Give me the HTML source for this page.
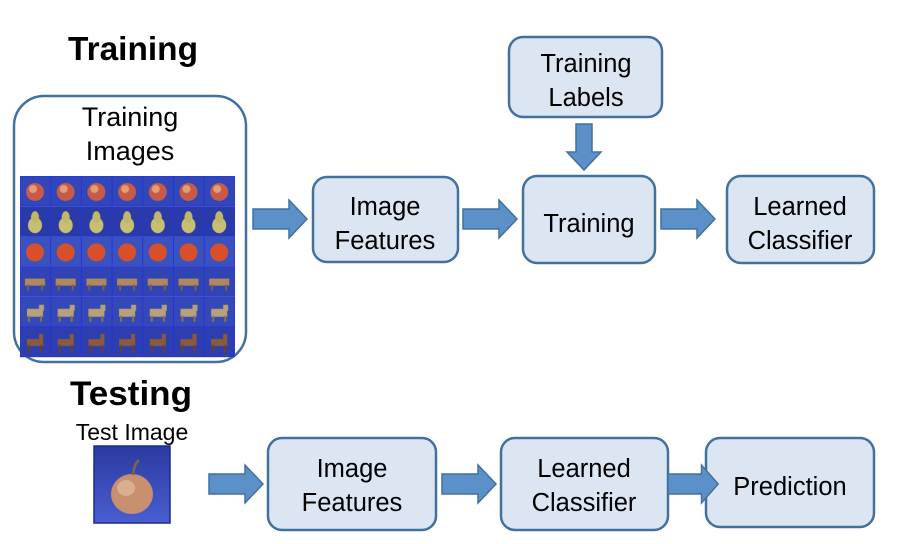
<!DOCTYPE html>
<html><head><meta charset="utf-8"><style>
html,body{margin:0;padding:0;background:#fff;}
svg{display:block}
text{font-family:"Liberation Sans",sans-serif;fill:#000}
</style></head><body>
<svg width="897" height="544" viewBox="0 0 897 544" xmlns="http://www.w3.org/2000/svg">
<defs>
<pattern id="p0" x="20" y="176" width="30.7" height="30.2" patternUnits="userSpaceOnUse"><rect width="30.7" height="30.2" fill="#3146b8" stroke="#2233dd" stroke-width="1"/><circle cx="15" cy="16" r="9" fill="#c85a4a"/><circle cx="13" cy="13" r="4" fill="#e0a070"/></pattern>
<pattern id="p1" x="20" y="206.2" width="30.7" height="30.2" patternUnits="userSpaceOnUse"><rect width="30.7" height="30.2" fill="#2a3aa8" stroke="#2233dd" stroke-width="1"/><ellipse cx="15" cy="19" rx="7" ry="8" fill="#c8c070"/><ellipse cx="15" cy="11" rx="4" ry="6" fill="#c0b868"/></pattern>
<pattern id="p2" x="20" y="236.4" width="30.7" height="30.2" patternUnits="userSpaceOnUse"><rect width="30.7" height="30.2" fill="#3a52c0" stroke="#2233dd" stroke-width="1"/><circle cx="15" cy="16" r="9" fill="#d8502a"/></pattern>
<pattern id="p3" x="20" y="266.6" width="30.7" height="30.2" patternUnits="userSpaceOnUse"><rect width="30.7" height="30.2" fill="#3044b4" stroke="#2233dd" stroke-width="1"/><rect x="5" y="12" width="20" height="7" fill="#b08860"/><rect x="7" y="18" width="2" height="6" fill="#806040"/><rect x="21" y="18" width="2" height="6" fill="#806040"/></pattern>
<pattern id="p4" x="20" y="296.8" width="30.7" height="30.2" patternUnits="userSpaceOnUse"><rect width="30.7" height="30.2" fill="#3448b8" stroke="#2233dd" stroke-width="1"/><rect x="7" y="12" width="16" height="8" fill="#b8a078"/><rect x="19" y="8" width="5" height="6" fill="#b8a078"/><rect x="8" y="19" width="2" height="6" fill="#8a7050"/><rect x="20" y="19" width="2" height="6" fill="#8a7050"/></pattern>
<pattern id="p5" x="20" y="327" width="30.7" height="30.2" patternUnits="userSpaceOnUse"><rect width="30.7" height="30.2" fill="#2c3eb0" stroke="#2233dd" stroke-width="1"/><rect x="7" y="12" width="16" height="7" fill="#8a5a3a"/><rect x="19" y="7" width="4" height="7" fill="#8a5a3a"/><rect x="8" y="18" width="2" height="8" fill="#6a4028"/><rect x="20" y="18" width="2" height="8" fill="#6a4028"/></pattern>
<linearGradient id="ti" x1="0" y1="0" x2="0" y2="1"><stop offset="0" stop-color="#2a3aa0"/><stop offset="1" stop-color="#4a5ed0"/></linearGradient>
<g id="ar"><polygon points="0,-10 36,-10 36,-19 54,0 36,19 36,10 0,10" fill="#5b90c8" stroke="#41719c" stroke-width="1.5"/></g>
</defs>

<text x="68" y="60" font-size="33" font-weight="bold" textLength="130" lengthAdjust="spacingAndGlyphs">Training</text>
<rect x="14" y="96" width="232" height="266" rx="30" fill="#fff" stroke="#41719c" stroke-width="2.5"/>
<text x="130" y="126" font-size="27" text-anchor="middle">Training</text>
<text x="130" y="160" font-size="27" text-anchor="middle">Images</text>
<rect x="20" y="176" width="215" height="30.2" fill="url(#p0)"/>
<rect x="20" y="206.2" width="215" height="30.2" fill="url(#p1)"/>
<rect x="20" y="236.4" width="215" height="30.2" fill="url(#p2)"/>
<rect x="20" y="266.6" width="215" height="30.2" fill="url(#p3)"/>
<rect x="20" y="296.8" width="215" height="30.2" fill="url(#p4)"/>
<rect x="20" y="327" width="215" height="30.2" fill="url(#p5)"/>

<g fill="#dce6f2" stroke="#41719c" stroke-width="2.5">
<rect x="313" y="177" width="145" height="85" rx="14"/>
<rect x="523" y="176" width="132" height="87" rx="14"/>
<rect x="509" y="37" width="153" height="80" rx="14"/>
<rect x="727" y="176" width="147" height="87" rx="14"/>
<rect x="268" y="438" width="168" height="92" rx="14"/>
<rect x="501" y="438" width="167" height="92" rx="14"/>
<rect x="706" y="438" width="168" height="89" rx="14"/>
</g>
<g font-size="25.5" text-anchor="middle">
<text x="385" y="215">Image</text><text x="385" y="249">Features</text>
<text x="589" y="232">Training</text>
<text x="586" y="72">Training</text><text x="586" y="106">Labels</text>
<text x="800" y="215">Learned</text><text x="800" y="249">Classifier</text>
<text x="352" y="477">Image</text><text x="352" y="511">Features</text>
<text x="584" y="477">Learned</text><text x="584" y="511">Classifier</text>
<text x="790" y="495">Prediction</text>
</g>

<use href="#ar" x="253" y="219"/>
<use href="#ar" x="463" y="219"/>
<use href="#ar" x="661" y="219"/>
<polygon points="576,124 592,124 592,152 601,152 584,170 567,152 576,152" fill="#5b90c8" stroke="#41719c" stroke-width="1.5"/>
<use href="#ar" x="209" y="484"/>
<use href="#ar" x="442" y="484"/>
<use href="#ar" x="668" y="484" transform="translate(668,484) scale(0.93,1) translate(-668,-484)"/>

<text x="70" y="405" font-size="34" font-weight="bold" textLength="122" lengthAdjust="spacingAndGlyphs">Testing</text>
<text x="132" y="440" font-size="23" text-anchor="middle">Test Image</text>
<rect x="94" y="446" width="76" height="77" fill="url(#ti)" stroke="#1a2a90" stroke-width="1.5"/>
<ellipse cx="132" cy="494" rx="21" ry="20" fill="#c89070"/>
<ellipse cx="126" cy="488" rx="9" ry="8" fill="#d8b090"/>
<path d="M133 475 Q134 464 139 460" stroke="#7a6a40" stroke-width="2.5" fill="none"/>
</svg>
</body></html>
